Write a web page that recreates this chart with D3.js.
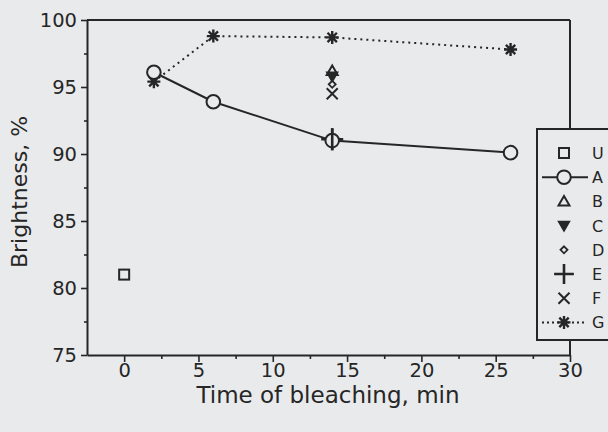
<!DOCTYPE html>
<html>
<head>
<meta charset="utf-8">
<script src="https://cdn.jsdelivr.net/npm/d3@7"></script>
<style>
  html, body { margin: 0; padding: 0; background: #e9eaec; }
  svg { display: block; }
  text { font-family: "DejaVu Sans", sans-serif; fill: #262626; }
</style>
</head>
<body>
<svg id="chart" width="608" height="432"></svg>
<script>
// ---- data ----
const timesA = [2, 6, 14, 26];
const seriesA = [96.1, 93.9, 91.0, 90.1];
const timesG = [2, 6, 14, 26];
const seriesG = [95.4, 98.8, 98.7, 97.8];
const pointU = [{t: 0, v: 81.0}];
const pointB = [{t: 14, v: 96.2}];
const pointC = [{t: 14, v: 95.8}];
const pointD = [{t: 14, v: 95.2}];
const pointE = [{t: 14, v: 91.1}];
const pointF = [{t: 14, v: 94.5}];
const xTicks = [0, 5, 10, 15, 20, 25, 30];
const xMinorTicks = [2.5, 7.5, 12.5, 17.5, 22.5, 27.5];
const yTicks = [75, 80, 85, 90, 95, 100];
const yMinorTicks = [77.5, 82.5, 87.5, 92.5, 97.5];
const legendLabels = ["U", "A", "B", "C", "D", "E", "F", "G"];
const xTitle = "Time of bleaching, min";
const yTitle = "Brightness, %";

const ink = "#262626";
const bg = "#e9eaec";
const svg = d3.select("#chart");
svg.append("rect").attr("width", 608).attr("height", 432).attr("fill", bg);

const x = d3.scaleLinear().domain([-2.5, 30]).range([87, 570]);
const y = d3.scaleLinear().domain([75, 100]).range([355, 20]);

// frame: top and right
svg.append("line").attr("x1", x(-2.5)).attr("x2", x(30)).attr("y1", y(100)).attr("y2", y(100))
  .attr("stroke", ink).attr("stroke-width", 2);
svg.append("line").attr("x1", x(30)).attr("x2", x(30)).attr("y1", y(100)).attr("y2", y(75))
  .attr("stroke", ink).attr("stroke-width", 2);

// axes
function styleAxis(g) {
  g.select(".domain").attr("stroke", ink).attr("stroke-width", 2);
  g.selectAll(".tick line").attr("stroke", ink).attr("stroke-width", 1.6);
  g.selectAll(".tick text").attr("fill", ink).style("font-family", '"DejaVu Sans", sans-serif');
}
const xAxis = svg.append("g").attr("transform", `translate(0,${y(75)})`)
  .call(d3.axisBottom(x).tickValues(xTicks).tickSize(7).tickSizeOuter(0).tickPadding(1).tickFormat(d3.format("d")));
styleAxis(xAxis);
xAxis.selectAll(".tick text").style("font-size", "19.5px");
const xAxisMinor = svg.append("g").attr("transform", `translate(0,${y(75)})`)
  .call(d3.axisBottom(x).tickValues(xMinorTicks).tickSize(4).tickFormat(""));
xAxisMinor.select(".domain").remove();
xAxisMinor.selectAll(".tick line").attr("stroke", ink).attr("stroke-width", 1.6);

const yAxis = svg.append("g").attr("transform", `translate(${x(-2.5)},0)`)
  .call(d3.axisLeft(y).tickValues(yTicks).tickSize(6).tickSizeOuter(0).tickPadding(4).tickFormat(d3.format("d")));
styleAxis(yAxis);
yAxis.selectAll(".tick text").style("font-size", "19.5px");
const yAxisMinor = svg.append("g").attr("transform", `translate(${x(-2.5)},0)`)
  .call(d3.axisLeft(y).tickValues(yMinorTicks).tickSize(3).tickFormat(""));
yAxisMinor.select(".domain").remove();
yAxisMinor.selectAll(".tick line").attr("stroke", ink).attr("stroke-width", 1.6);

// titles
svg.append("text").attr("x", 328).attr("y", 403).attr("text-anchor", "middle")
  .style("font-size", "23px").text(xTitle);
svg.append("text").attr("transform", "translate(27,192) rotate(-90)").attr("text-anchor", "middle")
  .style("font-size", "22px").text(yTitle);

// marker drawers
function drawMarker(g, type, cx, cy, scale) {
  const s = scale || 1;
  if (type === "U") {
    g.append("rect").attr("x", cx - 5 * s).attr("y", cy - 5 * s).attr("width", 10 * s).attr("height", 10 * s)
      .attr("fill", "none").attr("stroke", ink).attr("stroke-width", 2);
  } else if (type === "A") {
    g.append("circle").attr("cx", cx).attr("cy", cy).attr("r", 6.8 * s)
      .attr("fill", bg).attr("stroke", ink).attr("stroke-width", 2);
  } else if (type === "B") {
    const r = 5.5 * s;
    g.append("path").attr("d", `M${cx},${cy - r}L${cx + r},${cy + r * 0.75}L${cx - r},${cy + r * 0.75}Z`)
      .attr("fill", "none").attr("stroke", ink).attr("stroke-width", 2);
  } else if (type === "C") {
    const r = 5.5 * s;
    g.append("path").attr("d", `M${cx - r},${cy - r * 0.75}L${cx + r},${cy - r * 0.75}L${cx},${cy + r}Z`)
      .attr("fill", ink).attr("stroke", ink).attr("stroke-width", 1.5);
  } else if (type === "D") {
    const r = 3.5 * s;
    g.append("path").attr("d", `M${cx},${cy - r}L${cx + r},${cy}L${cx},${cy + r}L${cx - r},${cy}Z`)
      .attr("fill", bg).attr("stroke", ink).attr("stroke-width", 1.8);
  } else if (type === "E") {
    const r = 11 * s;
    g.append("path").attr("d", `M${cx - r},${cy}L${cx + r},${cy}M${cx},${cy - r}L${cx},${cy + r}`)
      .attr("stroke", ink).attr("stroke-width", 2.6);
  } else if (type === "F") {
    const r = 5.5 * s;
    g.append("path").attr("d", `M${cx - r},${cy - r}L${cx + r},${cy + r}M${cx - r},${cy + r}L${cx + r},${cy - r}`)
      .attr("stroke", ink).attr("stroke-width", 2);
  } else if (type === "G") {
    const r = 6.5 * s, d = r * 0.72;
    g.append("path").attr("d",
      `M${cx - r},${cy}L${cx + r},${cy}M${cx},${cy - r}L${cx},${cy + r}` +
      `M${cx - d},${cy - d}L${cx + d},${cy + d}M${cx - d},${cy + d}L${cx + d},${cy - d}`)
      .attr("stroke", ink).attr("stroke-width", 2.4);
  }
}

const plot = svg.append("g");

// series lines
const gData = timesG.map((t, i) => ({t, v: seriesG[i]}));
const aData = timesA.map((t, i) => ({t, v: seriesA[i]}));
const lineGen = d3.line().x(d => x(d.t)).y(d => y(d.v));
plot.append("path").datum(gData).attr("d", lineGen).attr("fill", "none")
  .attr("stroke", ink).attr("stroke-width", 2).attr("stroke-dasharray", "2,4");
plot.append("path").datum(aData).attr("d", lineGen).attr("fill", "none")
  .attr("stroke", ink).attr("stroke-width", 2);

gData.forEach(d => drawMarker(plot, "G", x(d.t), y(d.v)));
pointE.forEach(d => drawMarker(plot, "E", x(d.t), y(d.v)));
aData.forEach(d => drawMarker(plot, "A", x(d.t), y(d.v)));
pointE.forEach(d => {
  plot.append("path").attr("d", `M${x(d.t)},${y(d.v) - 11}L${x(d.t)},${y(d.v) + 11}`)
    .attr("stroke", ink).attr("stroke-width", 2.6);
});
pointU.forEach(d => drawMarker(plot, "U", x(d.t), y(d.v)));
pointB.forEach(d => drawMarker(plot, "B", x(d.t), y(d.v)));
pointC.forEach(d => drawMarker(plot, "C", x(d.t), y(d.v)));
pointD.forEach(d => drawMarker(plot, "D", x(d.t), y(d.v)));
pointF.forEach(d => drawMarker(plot, "F", x(d.t), y(d.v)));

// legend
const leg = svg.append("g");
leg.append("rect").attr("x", 537).attr("y", 129).attr("width", 80).attr("height", 211)
  .attr("fill", bg).attr("stroke", ink).attr("stroke-width", 2);
legendLabels.forEach((lab, i) => {
  const cy = 153 + i * 24.2;
  const cx = 564;
  if (lab === "A") {
    leg.append("line").attr("x1", 542).attr("x2", 588).attr("y1", cy).attr("y2", cy)
      .attr("stroke", ink).attr("stroke-width", 2);
  }
  if (lab === "G") {
    leg.append("line").attr("x1", 542).attr("x2", 584).attr("y1", cy).attr("y2", cy)
      .attr("stroke", ink).attr("stroke-width", 2).attr("stroke-dasharray", "2,3");
  }
  drawMarker(leg, lab, cx, cy, lab === "E" ? 0.9 : 1);
  leg.append("text").attr("x", 592).attr("y", cy + 6).style("font-size", "16px").text(lab);
});
</script>
</body>
</html>
